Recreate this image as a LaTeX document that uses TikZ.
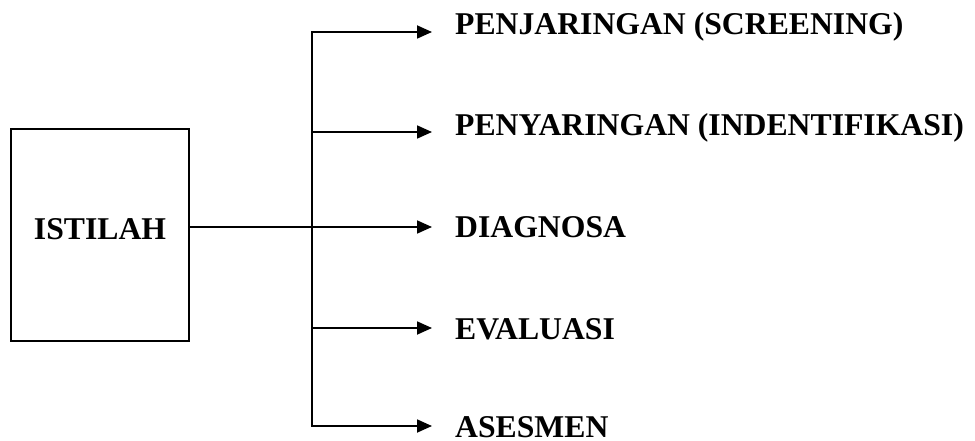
\documentclass[tikz,border=0pt]{standalone}
\usepackage{fontspec}
\setmainfont{Liberation Serif}
\usetikzlibrary{arrows.meta}
\begin{document}
\begin{tikzpicture}[x=1pt,y=-1pt,
  line/.style={line width=1.8pt},
  arr/.style={line, -{Triangle[length=15pt,width=13pt]}},
  lbl/.style={anchor=base west, inner xsep=23pt, inner ysep=0pt,
    font=\bfseries\fontsize{31.7}{38}\selectfont},
  boxstyle/.style={draw, line width=1.8pt, minimum width=178pt, minimum height=212pt, inner sep=0pt}]
\useasboundingbox (0,0) rectangle (975,441);

% left box and its caption
\node[boxstyle] (box) at (100,235) {};
\node[anchor=base, inner sep=0pt, font=\bfseries\fontsize{31.7}{38}\selectfont] (istilah) at (100,239) {ISTILAH};

% branch points on the vertical trunk
\coordinate (b1) at (312,32);
\coordinate (b2) at (312,132);
\coordinate (b3) at (312,227);
\coordinate (b4) at (312,328);
\coordinate (b5) at (312,426);

% labels (west anchor sits at the arrow tip)
\node[lbl] (l1) at (432,35) {PENJARINGAN (SCREENING)};
\node[lbl] (l2) at (432,136) {PENYARINGAN (INDENTIFIKASI)};
\node[lbl] (l3) at (432,237) {DIAGNOSA};
\node[lbl] (l4) at (432,339) {EVALUASI};
\node[lbl] (l5) at (432,437) {ASESMEN};

% trunk
\draw[line, line cap=rect] (b1) -- (b5);

% connectors
\draw[arr] (box.east |- b3) -- (b3 -| l3.west);
\draw[arr] (b1) -- (b1 -| l1.west);
\draw[arr] (b2) -- (b2 -| l2.west);
\draw[arr] (b4) -- (b4 -| l4.west);
\draw[arr] (b5) -- (b5 -| l5.west);
\end{tikzpicture}
\end{document}
